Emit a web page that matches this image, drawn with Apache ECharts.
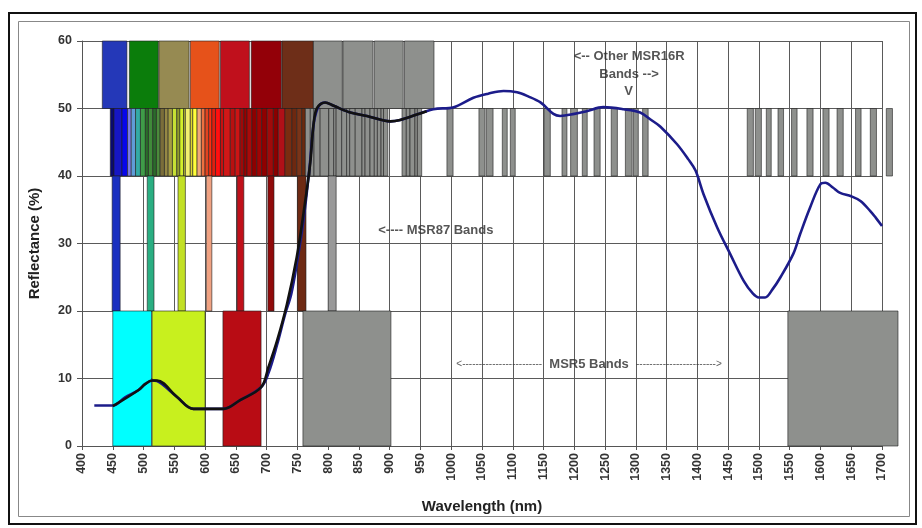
<!DOCTYPE html>
<html><head><meta charset="utf-8">
<script src="https://cdn.jsdelivr.net/npm/echarts@6/dist/echarts.min.js"></script>
<style>html,body{margin:0;padding:0;background:#fff}#c{width:922px;height:528px}</style>
</head><body><div id="c"></div>
<script>
// Reflectance spectrum (blue)
const wavelength = [420,450,470,492,503,514,522,554,581,630,657,691,703,717,730,740,750,760,770,777,785,795,809,836,863,901,917,944,971,1004,1036,1060,1085,1107,1125,1145,1166,1177,1200,1220,1247,1280,1307,1325,1340,1367,1385,1397,1410,1432,1453,1475,1490,1500,1510,1522,1535,1556,1567,1583,1600,1608,1620,1632,1650,1665,1681,1690,1700];
const reflectance = [6.0,6.0,7.2,8.3,9.2,9.7,9.6,7.3,5.5,5.5,6.8,8.7,10.8,15.0,19.5,22.5,27.5,33.5,41.5,48.0,50.4,50.9,50.4,49.4,48.9,48.1,48.3,49.1,49.9,50.2,51.6,52.2,52.6,52.4,51.8,50.9,49.2,48.9,49.2,49.6,50.2,49.9,49.4,48.3,47.3,44.7,42.5,40.8,37.3,32.4,28.5,24.5,22.6,22.0,22.0,23.2,25.0,28.5,31.4,35.3,38.8,39.0,38.3,37.5,37.0,36.3,34.8,33.8,32.6];
// Band-sampled reflectance (black)
const sampledWl = [450,492,503,514,522,554,581,630,657,691,703,717,733,749,760,771,776,782,795,809,836,863,901,917,944,960];
const sampledRefl = [5.9,8.3,9.2,9.7,9.7,7.3,5.5,5.5,6.8,8.7,11.7,15.6,21.0,28.0,34.5,42.0,47.5,50.1,50.9,50.4,49.4,48.9,48.1,48.3,49.1,49.6];

// Band rows: [low, high] reflectance span of each row
const rowMSR16 = [50, 60];
const rowNarrow = [40, 50];
const rowMSR87 = [20, 40];
const rowMSR5 = [0, 20];

// MSR16R wide bands (nm)
const msr16Bands = [[433,473],[477,524],[525,574],[576,623],[625,672],[675,724],[725,776],[776,823],[824,873],[875,922],[924,972]];
// Narrow coloured bands (nm)
const narrowBands = [[446,452],[452,465],[465,474],[474,480],[480,487],[487,495],[495,503],[503,508],[508,515],[515,521],[521,527],[527,534],[534,540],[540,547],[547,554],[554,559],[559,565],[565,568],[568,576],[576,580],[580,587],[587,594],[594,600],[600,606],[606,611],[611,617],[617,625],[625,630],[630,641],[641,649],[649,657],[657,663],[663,668],[668,676],[676,684],[684,692],[692,701],[701,711],[711,719],[719,730],[730,741],[741,749],[749,757],[757,763]];
// Other MSR16R narrow bands (nm), grey
const grayBands = [[763,771],[771,777],[777,787],[787,801],[801,809],[809,813],[813,822],[822,830],[830,835],[835,844],[844,855],[855,860],[860,868],[868,875],[875,880],[880,886],[886,890],[890,897],[920,927],[927,933],[933,941],[941,945],[945,952],[993,1003],[1045,1055],[1057,1068],[1083,1091],[1096,1104],[1151,1161],[1180,1188],[1194,1205],[1213,1221],[1232,1242],[1260,1270],[1283,1294],[1296,1304],[1311,1320],[1481,1491],[1494,1504],[1512,1520],[1531,1540],[1553,1562],[1578,1588],[1604,1614],[1627,1637],[1657,1666],[1681,1691],[1707,1717]];
// MSR87 bands (nm)
const msr87Bands = [[449,462],[506,517],[556,568],[602,611],[652,663],[702,712],[750,764],[800,813]];
// MSR5 bands (nm)
const msr5Bands = [[450,513],[514,600],[629,691],[759,902],[1547,1726]];

// Annotations: [nm, %, text]
const notes = [[1289,57.7,'<-- Other MSR16R'],[1289,55.1,'Bands -->'],[1288,52.5,'V'],[975,32.0,'<---- MSR87 Bands']];
const msr5Note = [1224,12.1];

// Styles
const msr16Colors = ['#2438b8','#0b7d0b','#968a52','#e6521a','#c0101c','#930008','#6e2e18','#8e908d','#8e908d','#8e908d','#8e908d'];
const narrowColors = ['#0a0a6e','#1616c4','#0606ea','#7c7ce4','#5f9cd8','#34aaa6','#3f9c48','#2a6e2a','#408a3a','#2c6a2c','#4c8a3c','#7a6d3a','#958845','#a59c42','#c6e034','#909c2c','#d4f02a','#b8c030','#f2f070','#e0d830','#ffff3c','#f0a878','#ee7040','#e04420','#ff3010','#e02010','#ff1010','#c81010','#d01818','#b81010','#cc1414','#a00808','#9a0000','#a80a0a','#8e0000','#a00404','#900000','#a00a0a','#8a0000','#b01018','#7a2c10','#6e2810','#7a3418','#6a2a10'];
const grayColor = '#8e908d';
const msr87Colors = ['#1a30c0','#2aae82','#c2e024','#f0a282','#c0101a','#900a0a','#6e2a14','#999999'];
const msr5Colors = ['#00ffff','#c8f01e','#b80c14','#8e908d','#8e908d'];

function rows(bands, row, colors) {
  return bands.map((b, i) => ({
    value: [b[0], b[1], row[0], row[1]],
    itemStyle: { color: Array.isArray(colors) ? colors[i] : colors }
  }));
}
const bandData = [].concat(
  rows(msr16Bands, rowMSR16, msr16Colors),
  rows(narrowBands, rowNarrow, narrowColors),
  rows(grayBands, rowNarrow, grayColor),
  rows(msr87Bands, rowMSR87, msr87Colors),
  rows(msr5Bands, rowMSR5, msr5Colors)
);

const FF = 'Liberation Sans, Arial, sans-serif';
const chart = echarts.init(document.getElementById('c'), null, { renderer: 'canvas' });
chart.setOption({
  backgroundColor: '#fff',
  animation: false,
  grid: { left: 82, right: 40, top: 41, bottom: 82 },
  xAxis: {
    type: 'value', min: 400, max: 1700, interval: 50,
    name: 'Wavelength (nm)', nameLocation: 'middle', nameGap: 53,
    nameTextStyle: { fontFamily: FF, fontWeight: 'bold', fontSize: 15, color: '#222' },
    axisLine: { lineStyle: { color: '#555', width: 1 } },
    axisTick: { show: true, length: 4, lineStyle: { color: '#555' } },
    axisLabel: { rotate: 90, margin: 7, formatter: v => String(v), fontFamily: FF, fontWeight: 'bold', fontSize: 12.5, color: '#333' },
    splitLine: { show: true, lineStyle: { color: '#5a5a5a', width: 1 } }
  },
  yAxis: {
    type: 'value', min: 0, max: 60, interval: 10,
    name: 'Reflectance (%)', nameLocation: 'middle', nameGap: 40,
    nameTextStyle: { fontFamily: FF, fontWeight: 'bold', fontSize: 15, color: '#222' },
    axisLine: { show: true, lineStyle: { color: '#555', width: 1 } },
    axisTick: { show: true, length: 5, lineStyle: { color: '#555' } },
    axisLabel: { margin: 10, fontFamily: FF, fontWeight: 'bold', fontSize: 12.5, color: '#333' },
    splitLine: { show: true, lineStyle: { color: '#5a5a5a', width: 1 } }
  },
  series: [
    {
      type: 'custom', clip: false, z: 2, silent: true,
      renderItem: function (params, api) {
        const p0 = api.coord([api.value(0), api.value(3)]);
        const p1 = api.coord([api.value(1), api.value(2)]);
        return {
          type: 'rect',
          shape: { x: p0[0], y: p0[1], width: p1[0] - p0[0], height: p1[1] - p0[1] },
          style: { fill: api.visual('color'), stroke: 'rgba(30,30,30,0.75)', lineWidth: 0.8 }
        };
      },
      encode: { x: [0, 1], y: [2, 3] },
      data: bandData
    },
    {
      type: 'line', z: 4, silent: true, showSymbol: false, smooth: 0.35,
      lineStyle: { color: '#1c1c8a', width: 2.6 },
      data: wavelength.map((w, i) => [w, reflectance[i]])
    },
    {
      type: 'line', z: 5, silent: true, showSymbol: false, smooth: 0.35,
      lineStyle: { color: '#111', width: 2.6 },
      data: sampledWl.map((w, i) => [w, sampledRefl[i]])
    },
    {
      type: 'scatter', z: 6, silent: true, symbolSize: 0,
      label: {
        show: true, position: 'inside', formatter: p => p.data[2],
        fontFamily: FF, fontWeight: 'bold', fontSize: 13, color: '#2a2a2a'
      },
      data: notes
    },
    {
      type: 'scatter', z: 6, silent: true, symbolSize: 0,
      label: {
        show: true, position: 'inside',
        formatter: '{d|<------------------------}  MSR5 Bands  {d|------------------------>}',
        fontFamily: FF, fontWeight: 'bold', fontSize: 13, color: '#2a2a2a',
        rich: { d: { fontFamily: FF, fontWeight: 'normal', fontSize: 10, color: '#333' } }
      },
      data: [msr5Note]
    }
  ],
  graphic: [
    { type: 'rect', silent: true, shape: { x: 9, y: 13, width: 907, height: 511 }, style: { fill: null, stroke: '#111', lineWidth: 2 } },
    { type: 'rect', silent: true, shape: { x: 18.5, y: 21.5, width: 891, height: 495 }, style: { fill: null, stroke: '#888', lineWidth: 1 } }
  ]
});
</script></body></html>
